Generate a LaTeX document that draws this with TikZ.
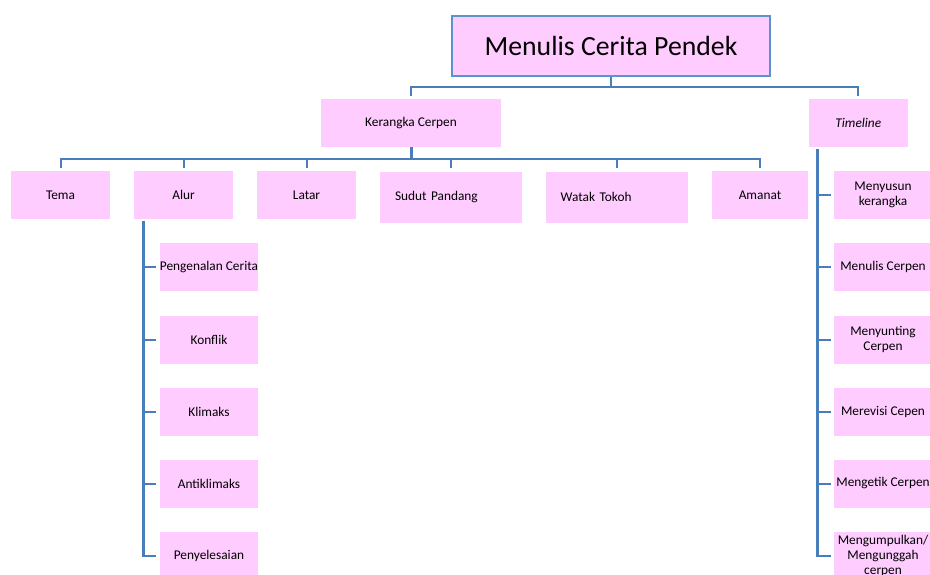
\documentclass[tikz,border=0pt]{standalone}
\usepackage{fontspec}
\setmainfont{Carlito}
\definecolor{boxpink}{HTML}{FFCCFF}
\definecolor{lineblue}{HTML}{4A7EBB}
\definecolor{rootblue}{HTML}{5B93CF}

\begin{document}
\begin{tikzpicture}[x=0.75pt,y=-0.75pt,
    box/.style={fill=boxpink,inner sep=0pt,align=center,minimum height=36pt,
                font=\fontsize{10}{11.25}\selectfont},
    widebox/.style={box,minimum width=106.5pt,minimum height=38.25pt,text width=84pt,align=left},
    conn/.style={draw=lineblue,line width=1.5pt},
    trunk/.style={draw=lineblue,line width=2.25pt}]
                    \useasboundingbox (0,0) rectangle (930,574);
                    % Root
                    \node[box,draw=rootblue,line width=1.5pt,minimum width=238.5pt,minimum height=45pt,
                          font=\fontsize{20.8}{25}\selectfont] (root) at (611,46.2) {Menulis Cerita Pendek};
                    % Layer 1
                    \node[box,minimum width=135pt] (ker) at (411,123) {Kerangka Cerpen};
                    \node[box,minimum width=74.25pt,font=\fontsize{10}{11.25}\selectfont\itshape] (time) at (858.3,123) {Timeline};
                    % Layer 2
                    \node[box,minimum width=74.25pt] (tema) at (60.5,195) {Tema};
                    \node[box,minimum width=74.25pt] (alur) at (183.5,195) {Alur};
                    \node[box,minimum width=74.25pt] (latar) at (306.5,195) {Latar};
                    \node[widebox] (sudut) at (451,197) {Sudut Pandang};
                    \node[widebox] (watak) at (616.7,197) {Watak Tokoh};
                    \node[box,minimum width=72pt] (amanat) at (760,195) {Amanat};
                    % Alur parts
                    \node[box,minimum width=73.5pt] (kenal) at (209,267) {Pengenalan Cerita};
                    \node[box,minimum width=73.5pt] (konflik) at (209,339.5) {Konflik};
                    \node[box,minimum width=73.5pt] (klimaks) at (209,411.5) {Klimaks};
                    \node[box,minimum width=73.5pt] (anti) at (209,483.5) {Antiklimaks};
                    \node[box,minimum width=73.5pt] (selesai) at (209,555.5) {Penyelesaian};
                    % Timeline steps
                    \node[box,minimum width=73.5pt] (T1) at (883,195.3) {Menyusun\\kerangka};
                    \node[box,minimum width=73.5pt] (T2) at (883,267) {Menulis Cerpen};
                    \node[box,minimum width=73.5pt] (T3) at (883,339.5) {Menyunting\\Cerpen};
                    \node[box,minimum width=73.5pt] (T4) at (883,411.5) {Merevisi Cepen};
                    \node[box,minimum width=73.5pt] (T5) at (883,483.5) {Mengetik Cerpen};
                    \node[box,minimum width=73.5pt] (T6) at (883,555.5) {Mengumpulkan/\\Mengunggah\\cerpen};
                    % Links root
                    \coordinate (rootbar) at (0,87.3);
                    \draw[conn] (root.south) -- (root.south |- rootbar);
                    \draw[conn,line cap=rect] (ker.north |- rootbar) -- (time.north |- rootbar);
                    \draw[conn,shorten >=2pt] (ker.north |- rootbar) -- (ker.north);
                    \draw[conn,shorten >=2pt] (time.north |- rootbar) -- (time.north);
                    % Links layer 2
                    \coordinate (kerbar) at (0,158.5);
                    \draw[trunk] (ker.south) -- (ker.south |- kerbar);
                    \draw[conn,line cap=rect] (tema.north |- kerbar) -- (amanat.north |- kerbar);
                    \draw[conn,shorten >=2.25pt] (tema.north |- kerbar) -- (tema.north);
                    \draw[conn,shorten >=2.25pt] (alur.north |- kerbar) -- (alur.north);
                    \draw[conn,shorten >=2.25pt] (latar.north |- kerbar) -- (latar.north);
                    \draw[conn,shorten >=2.25pt] (sudut.north |- kerbar) -- (sudut.north);
                    \draw[conn,shorten >=2.25pt] (watak.north |- kerbar) -- (watak.north);
                    \draw[conn,shorten >=2.25pt] (amanat.north |- kerbar) -- (amanat.north);
                    % Links alur
                    \coordinate (alurtop) at (143,222);
                    \draw[trunk,line cap=rect] (alurtop) -- (alurtop |- selesai.west);
                    \draw[conn,shorten >=2.5pt] (alurtop |- kenal.west) -- (kenal.west);
                    \draw[conn,shorten >=2.5pt] (alurtop |- konflik.west) -- (konflik.west);
                    \draw[conn,shorten >=2.5pt] (alurtop |- klimaks.west) -- (klimaks.west);
                    \draw[conn,shorten >=2.5pt] (alurtop |- anti.west) -- (anti.west);
                    \draw[conn,shorten >=2.5pt] (alurtop |- selesai.west) -- (selesai.west);
                    % Links timeline
                    \coordinate (timetop) at (817.3,150);
                    \draw[trunk,line cap=rect] (timetop) -- (timetop |- T6.west);
                    \draw[conn,shorten >=2pt] (timetop |- T1.west) -- (T1.west);
                    \draw[conn,shorten >=2pt] (timetop |- T2.west) -- (T2.west);
                    \draw[conn,shorten >=2pt] (timetop |- T3.west) -- (T3.west);
                    \draw[conn,shorten >=2pt] (timetop |- T4.west) -- (T4.west);
                    \draw[conn,shorten >=2pt] (timetop |- T5.west) -- (T5.west);
                    \draw[conn,shorten >=2pt] (timetop |- T6.west) -- (T6.west);
                \end{tikzpicture}
\end{document}
